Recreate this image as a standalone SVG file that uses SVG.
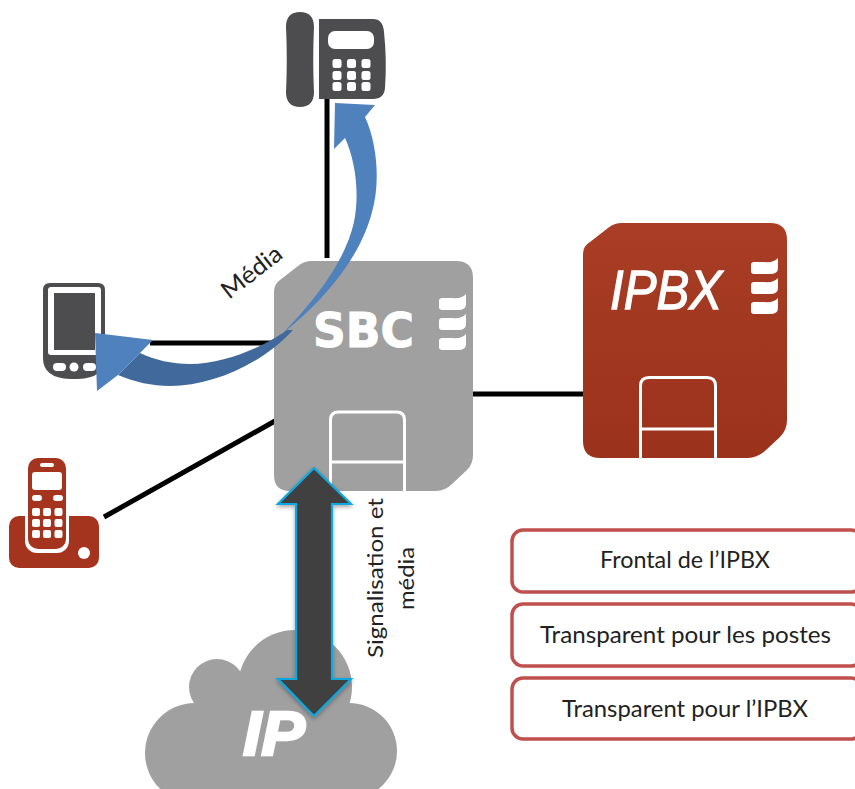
<svg xmlns="http://www.w3.org/2000/svg" width="855" height="789" viewBox="0 0 855 789">
<style>
.lbl{font-family:"Lato","Carlito","Open Sans",sans-serif;fill:#222}
.wire{stroke:#000;stroke-width:5;fill:none}
.dark{fill:#4d4d4f}
.wh{fill:#fff}
.door{fill:none;stroke:#fff;stroke-width:3}
.rbox{fill:#fff;stroke:#c0504d;stroke-width:3.5}
.red{fill:#a5341f}
.cl{fill:#a0a0a0}
</style>
<defs>
<linearGradient id="ipbxg" x1="0" y1="0" x2="0" y2="1"><stop offset="0" stop-color="#a93d25"/><stop offset="1" stop-color="#9b321b"/></linearGradient>
<filter id="sh" x="-20%" y="-10%" width="140%" height="120%"><feDropShadow dx="0" dy="2" stdDeviation="2" flood-color="#000" flood-opacity=".35"/></filter>
<path id="bars" d="M3,4 H13 Q23,5 27,0 V10 Q27,16 19,16 H3 Q0,16 0,13 V7 Q0,4 3,4Z M3,24 H13 Q23,25 27,20 V30 Q27,36 19,36 H3 Q0,36 0,33 V27 Q0,24 3,24Z M3,44 H13 Q23,45 27,40 V50 Q27,56 19,56 H3 Q0,56 0,53 V47 Q0,44 3,44Z"/>
</defs>

<g id="connectors">
<line class="wire" x1="327" y1="99" x2="327" y2="258"/>
<line class="wire" x1="150" y1="343" x2="276" y2="343"/>
<line class="wire" x1="275" y1="421" x2="104" y2="517"/>
<line class="wire" x1="472" y1="394" x2="585" y2="394"/>
</g>

<g id="sbc">
<path d="M274,292 Q274,284 280,280 L298,266 Q304,261 312,261 H456 Q473,261 473,278 V455 Q473,464 467,470 L452,484 Q445,491 436,491 H290 Q274,491 274,475Z" fill="#a0a0a0"/>
<text x="313" y="347" font-family="DejaVu Sans" font-weight="700" font-size="48" fill="#fff" stroke="#fff" stroke-width="1" textLength="101" lengthAdjust="spacingAndGlyphs">SBC</text>
<use href="#bars" x="439" y="294" class="wh"/>
<path class="door" d="M330.500,491 V420 Q330.500,412 338.500,412 H396.500 Q404.500,412 404.500,420 V491 M330.500,462 H404.500"/>
</g>

<g id="ipbx">
<path d="M583,254 Q583,246 590,242 L608,228 Q614,223 622,223 H770 Q787,223 787,240 V420 Q787,430 780,437 L766,450 Q758,458 748,458 H600 Q583,458 583,441Z" fill="url(#ipbxg)"/>
<text x="610" y="309" font-family="Liberation Sans" font-style="italic" font-size="56" fill="#fff" stroke="#fff" stroke-width="1.300" textLength="112" lengthAdjust="spacingAndGlyphs">IPBX</text>
<use href="#bars" x="751" y="258" class="wh"/>
<path class="door" d="M640.500,458 V386 Q640.500,377.500 649,377.500 H707 Q715.500,377.500 715.500,386 V458 M640.500,429 H715.500"/>
</g>

<g id="desk-phone">
<path class="dark" d="M300,12 C309,12 314,17 314,27 C313,50 313,70 314,92 C314,102 309,107 300,107 C291,107 286,102 286,92 C287,70 287,50 286,27 C286,17 291,12 300,12Z"/>
<path class="dark" d="M319,19 H373 Q383,19 384,32 Q387,60 385,88 Q384,99 373,99 H319Z"/>
<rect class="wh" x="328" y="31" width="46" height="18" rx="7"/>
<g class="wh">
<rect x="332.500" y="59" width="9" height="9" rx="2.500"/><rect x="347" y="59" width="9" height="9" rx="2.500"/><rect x="361.500" y="59" width="9" height="9" rx="2.500"/>
<rect x="332.500" y="71" width="9" height="9" rx="2.500"/><rect x="347" y="71" width="9" height="9" rx="2.500"/><rect x="361.500" y="71" width="9" height="9" rx="2.500"/>
<rect x="332.500" y="82" width="9" height="9" rx="2.500"/><rect x="347" y="82" width="9" height="9" rx="2.500"/><rect x="361.500" y="82" width="9" height="9" rx="2.500"/>
</g>
</g>

<g id="tablet">
<path class="dark" d="M50,283 H98 Q105,283 105,290 V358 Q105,378 78,379 H70 Q43,378 43,358 V290 Q43,283 50,283Z"/>
<rect class="wh" x="48" y="287" width="53" height="68" rx="3"/>
<rect class="dark" x="54" y="293" width="41" height="57"/>
<rect class="wh" x="53" y="363" width="13" height="8" rx="4"/>
<circle class="wh" cx="74" cy="367" r="4.500"/>
<rect class="wh" x="83" y="363" width="13" height="8" rx="4"/>
</g>

<g id="cordless">
<rect class="red" x="9" y="516" width="90" height="52" rx="10"/>
<rect class="wh" x="25" y="500" width="44" height="53" rx="12"/>
<rect class="red" x="28" y="458" width="38" height="91" rx="10"/>
<rect class="wh" x="40" y="463" width="14" height="4" rx="2"/>
<rect class="wh" x="32" y="472" width="30" height="18" rx="3"/>
<rect class="wh" x="32" y="495" width="10" height="6" rx="3"/><rect class="wh" x="53" y="495" width="10" height="6" rx="3"/>
<g class="wh">
<rect x="32" y="508" width="8" height="8" rx="2"/><rect x="43" y="508" width="8" height="8" rx="2"/><rect x="54.500" y="508" width="8" height="8" rx="2"/>
<rect x="32" y="519" width="8" height="8" rx="2"/><rect x="43" y="519" width="8" height="8" rx="2"/><rect x="54.500" y="519" width="8" height="8" rx="2"/>
<rect x="32" y="530" width="8" height="8" rx="2"/><rect x="43" y="530" width="8" height="8" rx="2"/><rect x="54.500" y="530" width="8" height="8" rx="2"/>
</g>
<circle class="wh" cx="84" cy="553" r="6"/>
</g>

<g id="ip-cloud">
<circle class="cl" cx="217" cy="687" r="28"/>
<circle class="cl" cx="295" cy="687" r="57"/>
<circle class="cl" cx="195" cy="753" r="50"/>
<circle class="cl" cx="349" cy="751" r="48"/>
<rect class="cl" x="195" y="690" width="154" height="110"/>
<text x="243" y="755" font-family="Liberation Sans" font-weight="700" font-style="italic" font-size="63" fill="#fff" stroke="#fff" stroke-width="2.500" textLength="62" lengthAdjust="spacingAndGlyphs">IP</text>
</g>

<g id="arrows">
<path d="M287,330 C265,346 225,364 190,364 C172,364 155,360 140,353 L118,375 C135,382 152,386 170,386 C212,386 262,364 293,330Z" fill="#41699b"/>
<path d="M95,333 L153,340 L140,353 L118,375 L97,391Z" fill="#4f81bd"/>
<path d="M335,103 L375,105 L365,117 C378,145 380,185 372,212 C362,252 330,296 283,333 C315,300 345,262 354,222 C360,192 355,160 345,138 L334,149Z" fill="#4f81bd"/>
<path d="M314,468 L351,504 H332 V679 H351 L314,716 L278,679 H296 V504 H278Z" fill="#404040" stroke="#0fa8e0" stroke-width="2.200" stroke-linejoin="miter" filter="url(#sh)"/>
</g>

<g id="labels">
<text class="lbl" transform="translate(229,300) rotate(-38)" font-size="24" textLength="70" lengthAdjust="spacingAndGlyphs">Média</text>
<text class="lbl" transform="translate(383,658) rotate(-90)" font-size="22" textLength="160" lengthAdjust="spacingAndGlyphs">Signalisation et</text>
<text class="lbl" transform="translate(414,610) rotate(-90)" font-size="22" textLength="63" lengthAdjust="spacingAndGlyphs">média</text>
</g>

<g id="box-frontal">
<rect class="rbox" x="512" y="530" width="350" height="62" rx="11"/>
<text class="lbl" x="600" y="568" font-size="23" textLength="170" lengthAdjust="spacingAndGlyphs">Frontal de l’IPBX</text>
</g>
<g id="box-postes">
<rect class="rbox" x="512" y="604" width="350" height="62" rx="11"/>
<text class="lbl" x="540" y="643" font-size="23" textLength="291" lengthAdjust="spacingAndGlyphs">Transparent pour les postes</text>
</g>
<g id="box-ipbx">
<rect class="rbox" x="512" y="678" width="350" height="61" rx="11"/>
<text class="lbl" x="562" y="717" font-size="23" textLength="246" lengthAdjust="spacingAndGlyphs">Transparent pour l’IPBX</text>
</g>
</svg>
